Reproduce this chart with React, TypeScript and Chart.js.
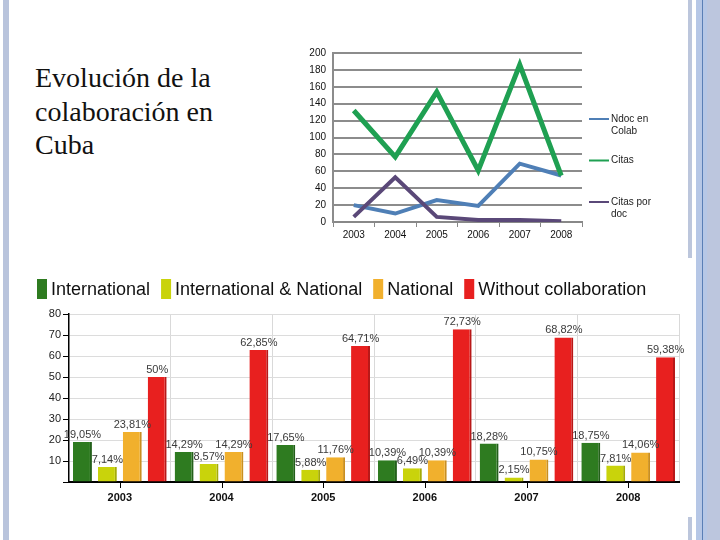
import React, { useEffect, useRef } from 'react';
import { Chart, registerables } from 'chart.js';
Chart.register(...registerables);

// ---- Line chart data ----
const years = ['2003', '2004', '2005', '2006', '2007', '2008'];
const ndocEnColab = [20, 10, 26, 19, 69, 55];
const citas = [132, 77, 154, 61, 186, 55];
const citasPorDoc = [6, 53, 6, 2.5, 2.5, 1];
const lineSeriesNames = ['Ndoc en Colab', 'Citas', 'Citas por doc'];
const lineLegendLines = [['Ndoc en', 'Colab'], ['Citas'], ['Citas por', 'doc']];

// ---- Bar chart data ----
const collabTypes = ['International', 'International & National', 'National', 'Without collaboration'];
const international = [19.05, 14.29, 17.65, 10.39, 18.28, 18.75];
const intAndNational = [7.14, 8.57, 5.88, 6.49, 2.15, 7.81];
const national = [23.81, 14.29, 11.76, 10.39, 10.75, 14.06];
const withoutCollab = [50, 62.85, 64.71, 72.73, 68.82, 59.38];
const barColors = ['#2e7b20', '#c9d30b', '#f1b02d', '#e8201f'];
const barEdgeColors = ['#23601a', '#a4ab08', '#c98f20', '#b81818'];

const title = 'Evolución de la colaboración en Cuba';

const fmtPct = (v: number) =>
  Number.isInteger(v) ? `${v}%` : v.toFixed(2).replace('.', ',') + '%';

const lineLegendPlugin = {
  id: 'lineLegend',
  afterDraw(chart: any) {
    const { ctx, chartArea } = chart;
    ctx.save();
    ctx.font = '10px "Liberation Sans", Arial, sans-serif';
    ctx.fillStyle = '#222';
    ctx.textBaseline = 'middle';
    chart.data.datasets.forEach((ds: any, i: number) => {
      const y = chartArea.top + 66 + i * 41.5;
      const x0 = chartArea.right + 7;
      ctx.strokeStyle = ds.borderColor;
      ctx.lineWidth = 2;
      ctx.beginPath();
      ctx.moveTo(x0, y);
      ctx.lineTo(x0 + 20, y);
      ctx.stroke();
      lineLegendLines[i].forEach((t, j) => ctx.fillText(t, x0 + 22, y + j * 12));
    });
    ctx.restore();
  },
};

const barExtrasPlugin = {
  id: 'barExtras',
  afterDatasetsDraw(chart: any) {
    const { ctx } = chart;
    ctx.save();
    ctx.font = '11px "Liberation Sans", Arial, sans-serif';
    ctx.fillStyle = '#3a3a3a';
    ctx.textAlign = 'center';
    ctx.textBaseline = 'alphabetic';
    chart.data.datasets.forEach((ds: any, i: number) => {
      const meta = chart.getDatasetMeta(i);
      meta.data.forEach((bar: any, j: number) => {
        ctx.fillText(fmtPct(ds.data[j]), bar.x, bar.y - 4);
      });
    });
    ctx.restore();
  },
  afterDraw(chart: any) {
    const { ctx, chartArea, scales } = chart;
    ctx.save();
    // tick marks at category centres
    ctx.strokeStyle = '#000';
    ctx.lineWidth = 1;
    chart.data.labels.forEach((_: any, i: number) => {
      const x = Math.round(scales.x.getPixelForValue(i)) + 0.5;
      ctx.beginPath();
      ctx.moveTo(x, chartArea.bottom);
      ctx.lineTo(x, chartArea.bottom + 6);
      ctx.stroke();
    });
    // legend
    ctx.font = '18px "Liberation Sans", Arial, sans-serif';
    ctx.textBaseline = 'middle';
    ctx.textAlign = 'left';
    let x = 7;
    chart.data.datasets.forEach((ds: any) => {
      ctx.fillStyle = ds.backgroundColor;
      ctx.fillRect(x, 9, 10, 20);
      ctx.fillStyle = '#111';
      ctx.fillText(ds.label, x + 14, 20);
      x += 14 + ctx.measureText(ds.label).width + 11;
    });
    ctx.restore();
  },
};

function LineChart() {
  const ref = useRef<HTMLCanvasElement>(null);
  useEffect(() => {
    const chart = new Chart(ref.current!, {
      type: 'line',
      data: {
        labels: years,
        datasets: [
          { label: lineSeriesNames[0], data: ndocEnColab, borderColor: '#4f7fb6', borderWidth: 4, pointRadius: 0, order: 3 },
          { label: lineSeriesNames[1], data: citas, borderColor: '#1fa052', borderWidth: 5, pointRadius: 0, order: 1 },
          { label: lineSeriesNames[2], data: citasPorDoc, borderColor: '#5a4878', borderWidth: 4, pointRadius: 0, order: 2 },
        ],
      },
      options: {
        responsive: false,
        animation: false,
        layout: { padding: { top: 10, right: 78, left: 0, bottom: 0 } },
        plugins: { legend: { display: false }, tooltip: { enabled: false } },
        scales: {
          x: {
            offset: true,
            grid: { offset: true, drawOnChartArea: false, color: '#888', tickLength: 5, lineWidth: 1 },
            border: { color: '#888', width: 2 },
            ticks: { font: { size: 10, family: '"Liberation Sans", Arial' }, color: '#111', padding: 2, maxRotation: 0 },
            afterFit: (s: any) => { s.height = 28; },
          },
          y: {
            min: 0,
            max: 200,
            ticks: { stepSize: 20, font: { size: 10, family: '"Liberation Sans", Arial' }, color: '#111', padding: 7 },
            grid: { color: '#8c8c8c', lineWidth: 2, drawTicks: false },
            border: { color: '#8c8c8c', width: 2 },
            afterFit: (s: any) => { s.width = 43; },
          },
        },
      },
      plugins: [lineLegendPlugin],
    } as any);
    return () => chart.destroy();
  }, []);
  return (
    <canvas
      ref={ref}
      width={370}
      height={210}
      style={{ position: 'absolute', left: 290, top: 40, width: 370, height: 210, display: 'block' }}
    />
  );
}

function BarChart() {
  const ref = useRef<HTMLCanvasElement>(null);
  useEffect(() => {
    const series = [international, intAndNational, national, withoutCollab];
    const chart = new Chart(ref.current!, {
      type: 'bar',
      data: {
        labels: years,
        datasets: series.map((d, i) => ({
          label: collabTypes[i],
          data: d,
          backgroundColor: barColors[i],
          borderColor: barEdgeColors[i],
          borderWidth: { top: 0, right: 2, bottom: 0, left: 0 },
          borderSkipped: false,
          categoryPercentage: 0.98,
          barPercentage: 0.76,
        })),
      },
      options: {
        responsive: false,
        animation: false,
        layout: { padding: { top: 44, right: 11, left: 0, bottom: 0 } },
        plugins: { legend: { display: false }, tooltip: { enabled: false } },
        scales: {
          x: {
            grid: { offset: true, color: '#d9d9d9', drawTicks: false },
            border: { color: '#000', width: 2 },
            ticks: { font: { size: 11, weight: 'bold', family: '"Liberation Sans", Arial' }, color: '#111', padding: 9, maxRotation: 0 },
            afterFit: (s: any) => { s.height = 28; },
          },
          y: {
            min: 0,
            max: 80,
            ticks: {
              stepSize: 10,
              font: { size: 11, family: '"Liberation Sans", Arial' },
              color: '#222',
              padding: 2,
              callback: (v: any) => (v === 0 ? '' : String(v)),
            },
            grid: { color: '#dcdcdc', tickColor: '#000', tickLength: 6 },
            border: { color: '#000', width: 1.5 },
            afterFit: (s: any) => { s.width = 39; },
          },
        },
      },
      plugins: [barExtrasPlugin],
    } as any);
    return () => chart.destroy();
  }, []);
  return (
    <canvas
      ref={ref}
      width={660}
      height={240}
      style={{ position: 'absolute', left: 30, top: 270, width: 660, height: 240, display: 'block' }}
    />
  );
}

export default function App() {
  const stripe = (left: number, width: number, color: string, top = 0, height = 540) => (
    <div style={{ position: 'absolute', left, width, top, height, background: color }} />
  );
  return (
    <div style={{ position: 'fixed', left: 0, top: 0, width: 720, height: 540, background: '#fff', overflow: 'hidden' }}>
      {stripe(3, 6, '#b9c4dc')}
      {stripe(688, 4, '#bcc6dc', 0, 258)}
      {stripe(688, 4, '#bcc6dc', 517, 23)}
      {stripe(696, 11, '#b6c7e6')}
      {stripe(702, 1, '#5a7fb6')}
      {stripe(707, 13, '#bcc6de')}
      <div
        style={{
          position: 'absolute',
          left: 35,
          top: 61,
          width: 200,
          fontFamily: '"Liberation Serif", "Times New Roman", serif',
          fontSize: 28,
          lineHeight: '33.5px',
          color: '#111',
        }}
      >
        {title}
      </div>
      <LineChart />
      <BarChart />
    </div>
  );
}
